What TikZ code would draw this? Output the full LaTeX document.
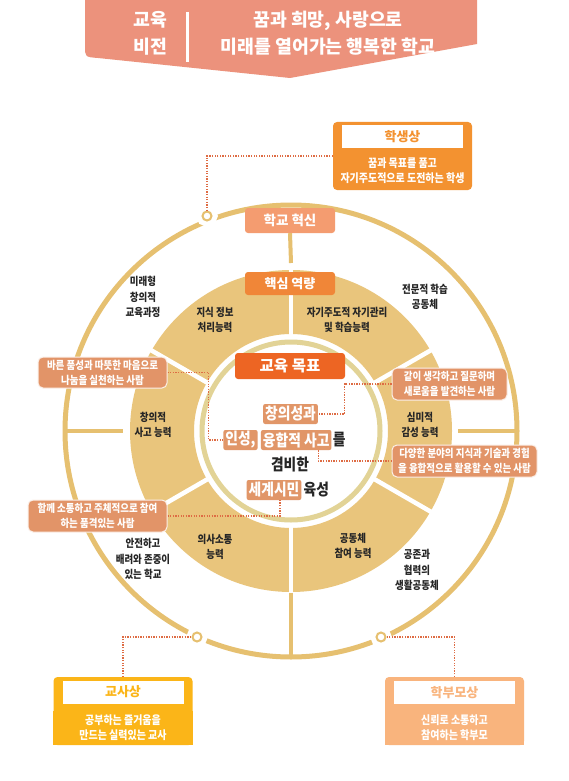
\documentclass[tikz,border=0pt]{standalone}
\usepackage{fontspec}
\setmainfont{Noto Sans CJK KR}
\newfontfamily\krn{Noto Sans CJK KR}[FakeStretch=0.86]
\usetikzlibrary{positioning, calc}
\definecolor{visionsalmon}{RGB}{236,146,124}
\definecolor{ringline}{RGB}{230,192,112}
\definecolor{ringyellow}{RGB}{233,197,124}
\definecolor{innerring}{RGB}{226,211,150}
\definecolor{innovsalmon}{RGB}{244,156,112}
\definecolor{coreorange}{RGB}{240,134,56}
\definecolor{goalorange}{RGB}{237,101,35}
\definecolor{hlsalmon}{RGB}{225,150,104}
\definecolor{callsalmon}{RGB}{226,148,104}
\definecolor{studentorange}{RGB}{243,146,48}
\definecolor{teacheramber}{RGB}{251,181,24}
\definecolor{parentpeach}{RGB}{249,180,125}
\definecolor{dotred}{RGB}{222,108,68}
\definecolor{darktext}{RGB}{38,38,38}

\begin{document}
\begin{tikzpicture}[
  x=1pt, y=-1pt,
  every node/.style={font=\krn},
  headtxt/.style={text=white, align=center, font=\fontsize{18.3}{27}\selectfont\bfseries},
  tagbox/.style={rounded corners=3pt, text=white, inner sep=0pt, font=\fontsize{13.5}{16}\selectfont\bfseries},
  seclabel/.style={text=darktext, align=center, inner sep=0pt, font=\krn\fontsize{11}{15.5}\selectfont\bfseries},
  hl/.style={fill=hlsalmon, rounded corners=2pt, text=white, inner xsep=2pt, inner ysep=0pt, minimum height=20pt, font=\krn\fontsize{16}{20}\selectfont\bfseries},
  plain/.style={text=darktext, inner sep=0pt, font=\krn\fontsize{16}{20}\selectfont\bfseries},
  callout/.style={fill=callsalmon, draw=white!85!callsalmon, line width=1pt, rounded corners=5pt, text=white, align=center, inner sep=0pt, font=\krn\fontsize{11}{15}\selectfont\bfseries},
  persona/.style={rounded corners=4pt, minimum width=139pt, minimum height=68pt, inner sep=0pt},
  ptitle/.style={fill=white, minimum width=121pt, minimum height=23pt, inner sep=0pt, font=\fontsize{13}{15}\selectfont\bfseries},
  pdesc/.style={text=white, align=center, inner sep=0pt, font=\krn\fontsize{11.6}{15}\selectfont\bfseries},
  ringdot/.style={circle, draw=ringline, fill=white, line width=2pt, minimum size=9pt, inner sep=0pt, preaction={draw=white, line width=12pt}},
  tick/.style={ringline, line width=4pt},
  dotlink/.style={dotred, line width=1.3pt, dash pattern=on 1.3pt off 1.3pt}
]
\useasboundingbox (0,0) rectangle (568,781);
\fill[white] (0,0) rectangle (568,781);

% vision banner
\fill[visionsalmon] (85,0) -- (85,46) .. controls (85,57) .. (98,58) -- (290,78) -- (477,44) -- (477,0) -- cycle;
\node[headtxt] (visionkey) at (150,33.5) {교육\\비전};
\draw[white, line width=3pt] (187,12) -- (187,62);
\node[headtxt] (visiontxt) at (328,33.5) {꿈과 희망, 사랑으로\\미래를 열어가는 행복한 학교};

% rings
\coordinate (c) at (291,431);
\draw[ringline, line width=5pt] (c) circle[radius=226pt];
\fill[ringyellow, even odd rule] (c) circle[radius=161pt] (c) circle[radius=97pt];
\foreach \a in {30,90,...,330}
  \draw[white, line width=4.5pt] ($(c)+(\a:95pt)$) -- ($(c)+(\a:163pt)$);
\draw[innerring, line width=5pt, fill=white] (c) circle[radius=89pt];

% outer ticks
\draw[tick] ($(c)+(-225,0)$) -- ($(c)+(-168,0)$);
\draw[tick] ($(c)+(167,0)$) -- ($(c)+(225,0)$);
\draw[tick] ($(c)+(0,162)$) -- ($(c)+(0,225)$);

\node[ringdot] (dotstudent) at (207,216) {};
\node[ringdot] (dotteacher) at (197,637) {};
\node[ringdot] (dotparent) at (381,637) {};

% tags
\node[tagbox, fill=innovsalmon, minimum width=90pt, minimum height=25pt] (innov) at (290,220.5) {학교 혁신};
\draw[tick] (innov.south) -- ($(c)+(0,-168)$);
\node[tagbox, fill=coreorange, minimum width=90pt, minimum height=23pt, font=\fontsize{13}{16}\selectfont\bfseries] (core) at (290,283.5) {핵심 역량};
\node[tagbox, fill=goalorange, minimum width=110pt, minimum height=26pt, font=\fontsize{15.5}{18}\selectfont\bfseries] (goal) at (290,366) {교육 목표};

% outer labels
\node[seclabel] (future) at (143,297) {미래형\\창의적\\교육과정};
\node[seclabel] (expert) at (425,297) {전문적 학습\\공동체};
\node[seclabel] (safe) at (143,559) {안전하고\\배려와 존중이\\있는 학교};
\node[seclabel] (coexist) at (417,570) {공존과\\협력의\\생활공동체};

% competencies
\node[seclabel] (knowledge) at (215,320) {지식 정보\\처리능력};
\node[seclabel] (selfdir) at (347,320) {자기주도적 자기관리\\및 학습능력};
\node[seclabel] (creative) at (153,425) {창의적\\사고 능력};
\node[seclabel] (aesthetic) at (420,425) {심미적\\감성 능력};
\node[seclabel] (commun) at (215,547) {의사소통\\능력};
\node[seclabel] (community) at (353,546) {공동체\\참여 능력};

% goal text
\node[hl] (creativity) at (290.5,414) {창의성과};
\node[hl] (inseong) at (240.5,440) {인성,};
\node[hl, right=3pt of inseong] (yunghap) {융합적 사고};
\node[plain, right=1pt of yunghap] (reul) {를};
\node[plain] (gyeombi) at (290,465) {겸비한};
\node[hl] (citizen) at (274,490) {세계시민};
\node[plain, right=2pt of citizen] (yukseong) {육성};

% callouts
\node[callout, minimum width=129pt, minimum height=31pt] (kindness) at (102.5,372.5) {바른 품성과 따뜻한 마음으로\\나눔을 실천하는 사람};
\node[callout, minimum width=115pt, minimum height=32pt] (curious) at (449.5,384) {같이 생각하고 질문하며\\새로움을 발견하는 사람};
\node[callout, minimum width=145pt, minimum height=32pt] (diverse) at (464.5,461) {다양한 분야의 지식과 기술과 경험\\을 융합적으로 활용할 수 있는 사람};
\node[callout, minimum width=139pt, minimum height=32pt] (together) at (97.5,516) {함께 소통하고 주체적으로 참여\\하는 품격있는 사람};

\draw[dotlink] (kindness.east) -- ++(41,0) |- (inseong.west);
\draw[dotlink] (curious.west) -- ++(-47,0) |- (creativity.east);
\draw[dotlink] ($(yunghap.south)+(22,0)$) |- (diverse.west);
\draw[dotlink] (together.east) -| ($(citizen.south)+(6,0)$);

% personas
\node[persona, fill=studentorange] (student) at (402.5,156) {};
\node[ptitle, text=studentorange] (studenttitle) at (402.5,136.5) {학생상};
\node[pdesc] (studentdesc) at (402.5,170.5) {꿈과 목표를 품고\\자기주도적으로 도전하는 학생};

\node[persona, fill=teacheramber] (teacher) at (123,711) {};
\fill[teacheramber] (teacher.west) rectangle (teacher.south east);
\node[ptitle, text=teacheramber] (teachertitle) at (123,692) {교사상};
\node[pdesc] (teacherdesc) at (123,727.5) {공부하는 즐거움을\\만드는 실력있는 교사};

\node[persona, fill=parentpeach] (parent) at (454.5,711) {};
\fill[parentpeach] (parent.west) rectangle (parent.south east);
\node[ptitle, text=parentpeach] (parenttitle) at (454.5,692.5) {학부모상};
\node[pdesc] (parentdesc) at (454.5,727.5) {신뢰로 소통하고\\참여하는 학부모};

\draw[dotlink] (student.west) -| (dotstudent.north);
\draw[dotlink] (teacher.north) |- (dotteacher.west);
\draw[dotlink] (parent.north) |- (dotparent.east);

\end{tikzpicture}
\end{document}
